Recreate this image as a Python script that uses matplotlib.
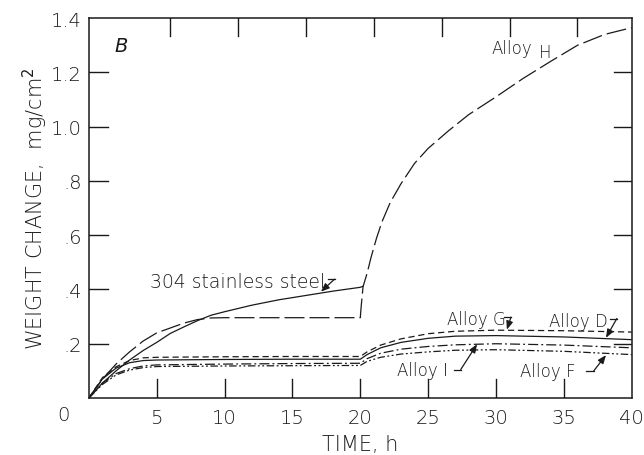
import matplotlib
matplotlib.use("Agg")
import matplotlib.pyplot as plt

plt.rcParams['font.family'] = ['DejaVu Sans']

# ---- data ----
x_ticks = [0, 5, 10, 15, 20, 25, 30, 35, 40]
x_ticklabels = ['', '5', '10', '15', '20', '25', '30', '35', '40']
top_ticks = [6, 11, 16, 21, 26, 31, 36]
y_ticks = [0, 0.2, 0.4, 0.6, 0.8, 1.0, 1.2, 1.4]
y_ticklabels = ['', '.2', '.4', '.6', '.8', '1.0', '1.2', '1.4']

h_x = [0, 1, 2, 3, 4, 5, 6, 7, 8, 9, 10, 12, 14, 16, 18, 20, 20.05, 20.2, 20.5,
       20.8, 21.2, 21.6, 22.2, 23, 24, 25, 26.5, 28, 30, 32, 34, 36, 38, 40]
h_y = [0, 0.07, 0.125, 0.17, 0.21, 0.24, 0.258, 0.276, 0.289, 0.295, 0.296, 0.296,
       0.296, 0.296, 0.296, 0.296, 0.33, 0.41, 0.46, 0.52, 0.59, 0.65, 0.72, 0.79,
       0.865, 0.92, 0.985, 1.045, 1.11, 1.178, 1.24, 1.30, 1.34, 1.365]

ss_x = [0, 1, 2, 3, 4, 5, 6, 7, 8, 9, 10, 12, 14, 16, 18, 20, 20.2]
ss_y = [0, 0.055, 0.1, 0.14, 0.175, 0.205, 0.238, 0.262, 0.285, 0.305, 0.318,
        0.342, 0.362, 0.378, 0.394, 0.408, 0.412]

low_x = [0, 1, 2, 3, 4, 5, 10, 15, 20, 20.5, 21.5, 23, 25, 27, 30, 35, 40]
g_y = [0, 0.075, 0.115, 0.138, 0.148, 0.15, 0.152, 0.153, 0.153, 0.17, 0.195,
       0.218, 0.237, 0.246, 0.25, 0.248, 0.243]
d_y = [0, 0.07, 0.11, 0.13, 0.138, 0.14, 0.142, 0.143, 0.143, 0.16, 0.185,
       0.205, 0.22, 0.228, 0.23, 0.225, 0.215]
i_y = [0, 0.055, 0.09, 0.108, 0.118, 0.122, 0.125, 0.127, 0.128, 0.145, 0.165,
       0.18, 0.19, 0.196, 0.2, 0.195, 0.185]
f_y = [0, 0.05, 0.085, 0.103, 0.112, 0.116, 0.118, 0.119, 0.12, 0.135, 0.15,
       0.162, 0.17, 0.176, 0.178, 0.172, 0.16]

# ---- figure ----
fig = plt.figure(figsize=(6.44, 4.56), dpi=100)
ax = fig.add_axes([0.138, 0.125, 0.843, 0.833])
lw = 0.9
col = '#1a1a1a'
ax.plot(h_x, h_y, color=col, lw=lw, dashes=(16, 4))
ax.plot(ss_x, ss_y, color=col, lw=lw)
ax.plot(low_x, g_y, color=col, lw=lw, dashes=(5, 3))
ax.plot(low_x, d_y, color=col, lw=lw)
ax.plot(low_x, i_y, color=col, lw=lw, dashes=(8, 2.5, 1.5, 2.5))
ax.plot(low_x, f_y, color=col, lw=lw, dashes=(6, 2, 1.5, 2, 1.5, 2))

XMIN, XMAX, YMIN, YMAX = 0, 40, 0, 1.4
ax.set_xlim(XMIN, XMAX)
ax.set_ylim(YMIN, YMAX)
ax.set_xticks(x_ticks)
ax.set_xticklabels(x_ticklabels)
ax.set_yticks(y_ticks)
ax.set_yticklabels(y_ticklabels)
ax.tick_params(axis='both', length=0, labelcolor=col, labelsize=14)
ax.tick_params(axis='x', pad=7)
ax.tick_params(axis='y', pad=5)
for lab in ax.get_xticklabels() + ax.get_yticklabels():
    lab.set_fontweight('light')
for s in ax.spines.values():
    s.set_linewidth(1.1)
    s.set_color(col)

# inward tick marks drawn as short segments (tick length as fraction of range)
vlen = 0.049 * (YMAX - YMIN)
hlen = 0.035 * (XMAX - XMIN)
for xv in x_ticks[1:-1]:
    ax.plot([xv, xv], [YMIN, YMIN + vlen], color=col, lw=1.0)
for xv in top_ticks:
    ax.plot([xv, xv], [YMAX, YMAX - vlen * 0.95], color=col, lw=1.0)
for yv in y_ticks[1:-1]:
    ax.plot([XMIN, XMIN + hlen], [yv, yv], color=col, lw=1.0)
    ax.plot([XMAX, XMAX - hlen * 0.95], [yv, yv], color=col, lw=1.0)

ax.annotate('0', xy=(0, 0), xycoords='data', xytext=(-18, -12),
            textcoords='offset points', ha='center', va='center',
            fontsize=14, fontweight='light', color=col)

ax.set_xlabel('TIME, h', fontsize=15, fontweight='light', color=col, labelpad=5)
ax.set_ylabel('WEIGHT CHANGE,  mg/cm$^2$', fontsize=15, fontweight='light',
              color=col, labelpad=1)

ax.text(2.4, 1.30, 'B', fontsize=14, fontstyle='italic', ha='center', va='center',
        color=col)

tk = dict(fontsize=12, fontweight='light', color=col, va='center')
ax.text(29.7, 1.29, 'Alloy', ha='left', **tk)
ax.text(33.6, 1.275, 'H', ha='center', **tk)
ax.text(4.5, 0.43, '304 stainless steel', ha='left', fontsize=13.5,
        fontweight='light', color=col, va='center')
ax.text(26.4, 0.29, 'Alloy G', ha='left', **tk)
ax.text(33.9, 0.285, 'Alloy D', ha='left', **tk)
ax.text(22.7, 0.105, 'Alloy I', ha='left', **tk)
ax.text(31.8, 0.10, 'Alloy F', ha='left', **tk)

ap = dict(arrowstyle='-|>,head_length=0.5,head_width=0.2', color=col, lw=0.9,
          shrinkA=0, shrinkB=0)
def hook(x0, y0, x1, y1, xt, yt):
    ax.plot([x0, x1], [y0, y1], color=col, lw=0.9)
    ax.annotate('', xy=(xt, yt), xytext=(x1, y1), arrowprops=ap)

hook(17.6, 0.438, 18.1, 0.438, 17.1, 0.392)
hook(30.6, 0.298, 31.1, 0.298, 30.8, 0.252)
hook(38.4, 0.293, 38.9, 0.293, 38.1, 0.222)
hook(26.9, 0.105, 27.4, 0.105, 28.6, 0.198)
hook(36.6, 0.10, 37.2, 0.10, 38.1, 0.158)

fig.savefig('out.png', dpi=100)
